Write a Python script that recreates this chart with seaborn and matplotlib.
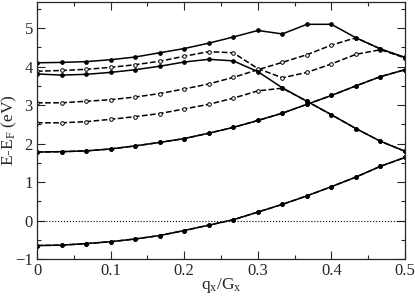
import numpy as np
import pandas as pd
import matplotlib
matplotlib.use("Agg")
import matplotlib.pyplot as plt
from matplotlib.ticker import MultipleLocator
import seaborn as sns

# q_x / G_x sampling points
q = [i / 30 for i in range(16)]

# solid bands (filled markers)
solid_1 = [-0.65, -0.64, -0.60, -0.55, -0.48, -0.39, -0.26, -0.12, 0.02, 0.22, 0.42, 0.64, 0.88, 1.13, 1.41, 1.64]
solid_2 = [1.78, 1.79, 1.81, 1.86, 1.94, 2.03, 2.13, 2.27, 2.42, 2.60, 2.79, 3.02, 3.25, 3.50, 3.74, 3.92]
solid_3 = [3.81, 3.78, 3.80, 3.85, 3.92, 4.01, 4.12, 4.19, 4.15, 3.87, 3.45, 3.10, 2.75, 2.39, 2.06, 1.80]
solid_4 = [4.10, 4.11, 4.13, 4.18, 4.25, 4.36, 4.47, 4.61, 4.77, 4.94, 4.85, 5.10, 5.10, 4.75, 4.46, 4.24]

# dashed bands (open markers)
dash_1 = [-0.65, -0.64, -0.60, -0.55, -0.48, -0.39, -0.26, -0.12, 0.02, 0.22, 0.42, 0.64, 0.88, 1.13, 1.41, 1.64]
dash_2 = [1.78, 1.79, 1.81, 1.86, 1.94, 2.03, 2.13, 2.27, 2.42, 2.60, 2.79, 3.02, 3.25, 3.50, 3.74, 3.92]
dash_3 = [2.54, 2.54, 2.57, 2.63, 2.70, 2.78, 2.90, 3.02, 3.18, 3.37, 3.44, 3.10, 2.75, 2.39, 2.06, 1.80]
dash_4 = [3.06, 3.06, 3.10, 3.14, 3.21, 3.30, 3.42, 3.55, 3.72, 3.92, 4.11, 4.31, 4.56, 4.75, 4.46, 4.23]
dash_5 = [3.88, 3.90, 3.93, 3.98, 4.05, 4.14, 4.27, 4.39, 4.36, 3.95, 3.71, 3.85, 4.07, 4.32, 4.44, 4.23]

sns.set_style("ticks")
plt.rcParams['font.family'] = ['Liberation Serif', 'DejaVu Serif']
plt.rcParams['mathtext.fontset'] = 'custom'
plt.rcParams['mathtext.rm'] = 'Liberation Serif'
plt.rcParams['mathtext.it'] = 'Liberation Serif'

fig = plt.figure(figsize=(4.15, 2.97), dpi=100)
ax = fig.add_axes([37 / 415, 38 / 297, 368 / 415, 257 / 297])

for band in [dash_1, dash_2, dash_3, dash_4, dash_5]:
    sns.lineplot(x=q, y=band, ax=ax, color='black', linestyle='--', lw=1.1,
                 marker='o', markersize=2.6, markerfacecolor='white',
                 markeredgecolor='black', markeredgewidth=0.7, sort=False)

for band in [solid_1, solid_2, solid_3, solid_4]:
    sns.lineplot(x=q, y=band, ax=ax, color='black', linestyle='-', lw=1.1,
                 marker='o', markersize=2.6, markerfacecolor='black',
                 markeredgecolor='black', sort=False)

ax.axhline(0, color='black', lw=0.8, linestyle=':')

ax.set_xlim(0, 0.5)
ax.set_ylim(-1, 5.68)
ax.xaxis.set_major_locator(MultipleLocator(0.1))
ax.xaxis.set_minor_locator(MultipleLocator(0.05))
ax.yaxis.set_major_locator(MultipleLocator(1))
ax.yaxis.set_minor_locator(MultipleLocator(0.5))
ax.set_xticks([0, 0.1, 0.2, 0.3, 0.4, 0.5])
ax.set_xticklabels(['0', '0.1', '0.2', '0.3', '0.4', '0.5'])
ax.tick_params(which='both', direction='in', top=True, right=True, labelsize=12, pad=3)
ax.tick_params(which='major', length=6, width=0.8)
ax.tick_params(which='minor', length=3, width=0.8)
for s in ax.spines.values():
    s.set_linewidth(0.9)

ax.set_xlabel('q$_\\mathrm{x}$/G$_\\mathrm{x}$', fontsize=12.5)
ax.set_ylabel('E-E$_\\mathrm{F}$ (eV)', fontsize=12.5)
ax.xaxis.set_label_coords(0.5, -0.068)
ax.yaxis.set_label_coords(-0.05, 0.5)

fig.savefig('out.png', dpi=100)
